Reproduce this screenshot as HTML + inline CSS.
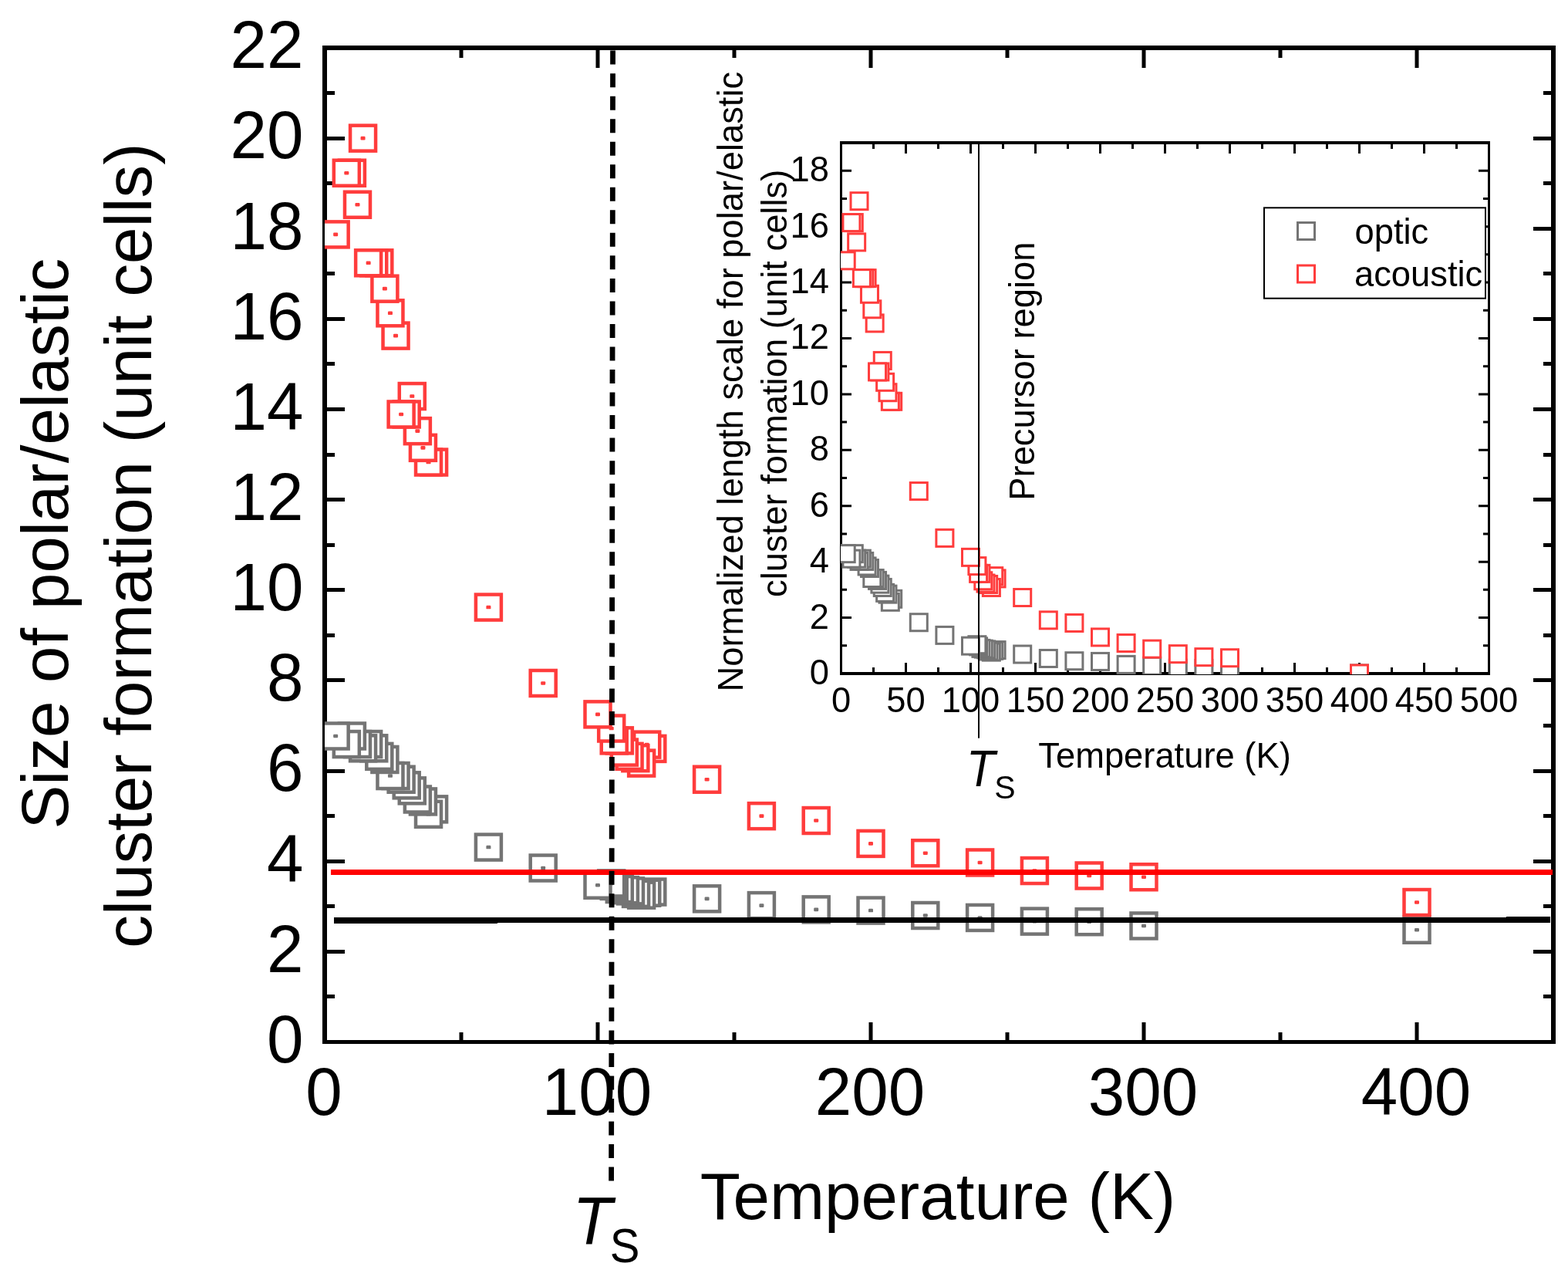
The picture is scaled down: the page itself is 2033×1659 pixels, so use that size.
<!DOCTYPE html>
<html lang="en"><head><meta charset="utf-8"><title>Size of polar/elastic cluster formation vs temperature</title>
<style>html,body{margin:0;padding:0;background:#fff;width:2033px;height:1659px;overflow:hidden}</style>
</head><body>
<svg width="2033" height="1659" viewBox="0 0 2033 1659" style="display:block;font-family:'Liberation Sans',Arial,Helvetica,sans-serif">
<rect width="2033" height="1659" fill="#fff"/>
<defs><clipPath id="cm"><rect x="421" y="62" width="1593" height="1288.5"/></clipPath><clipPath id="ci"><rect x="1090" y="185" width="840.5" height="689"/></clipPath></defs>
<path d="M424 1350.5h23M2011 1350.5h-23M424 1291.5h10M2011 1291.5h-10M424 1233.5h23M2011 1233.5h-23M424 1174.5h10M2011 1174.5h-10M424 1116.5h23M2011 1116.5h-23M424 1057.5h10M2011 1057.5h-10M424 999.5h23M2011 999.5h-23M424 940.5h10M2011 940.5h-10M424 881.5h23M2011 881.5h-23M424 823.5h10M2011 823.5h-10M424 764.5h23M2011 764.5h-23M424 706.5h10M2011 706.5h-10M424 647.5h23M2011 647.5h-23M424 589.5h10M2011 589.5h-10M424 530.5h23M2011 530.5h-23M424 471.5h10M2011 471.5h-10M424 413.5h23M2011 413.5h-23M424 354.5h10M2011 354.5h-10M424 296.5h23M2011 296.5h-23M424 237.5h10M2011 237.5h-10M424 179.5h23M2011 179.5h-23M424 120.5h10M2011 120.5h-10M424 62.5h23M2011 62.5h-23M598 1348v-10M598 65v10M775 1348v-23M775 65v23M952 1348v-10M952 65v10M1129 1348v-23M1129 65v23M1306 1348v-10M1306 65v10M1483 1348v-23M1483 65v23M1660 1348v-10M1660 65v10M1837 1348v-23M1837 65v23" stroke="#000" stroke-width="5" fill="none"/>
<g fill="#000">
<rect x="418" y="59" width="6" height="1294" fill="#000"/>
<rect x="2011" y="59" width="6" height="1294" fill="#000"/>
<rect x="418" y="59" width="1599" height="6" fill="#000"/>
<rect x="418" y="1348" width="1599" height="5" fill="#000"/>
</g>
<g clip-path="url(#cm)">
<rect x="1820.5" y="1188.75" width="33" height="33" fill="#fff" stroke="#747474" stroke-width="4.5"/>
<rect x="1834" y="1202.95" width="6" height="4.6" rx="1.2" fill="#747474"/>
<rect x="1466.5" y="1183.48" width="33" height="33" fill="#fff" stroke="#747474" stroke-width="4.5"/>
<rect x="1480" y="1197.68" width="6" height="4.6" rx="1.2" fill="#747474"/>
<rect x="1395.7" y="1178.21" width="33" height="33" fill="#fff" stroke="#747474" stroke-width="4.5"/>
<rect x="1409.2" y="1192.41" width="6" height="4.6" rx="1.2" fill="#747474"/>
<rect x="1324.9" y="1177.62" width="33" height="33" fill="#fff" stroke="#747474" stroke-width="4.5"/>
<rect x="1338.4" y="1191.82" width="6" height="4.6" rx="1.2" fill="#747474"/>
<rect x="1254.1" y="1172.94" width="33" height="33" fill="#fff" stroke="#747474" stroke-width="4.5"/>
<rect x="1267.6" y="1187.14" width="6" height="4.6" rx="1.2" fill="#747474"/>
<rect x="1183.3" y="1170.01" width="33" height="33" fill="#fff" stroke="#747474" stroke-width="4.5"/>
<rect x="1196.8" y="1184.21" width="6" height="4.6" rx="1.2" fill="#747474"/>
<rect x="1112.5" y="1163.57" width="33" height="33" fill="#fff" stroke="#747474" stroke-width="4.5"/>
<rect x="1126" y="1177.77" width="6" height="4.6" rx="1.2" fill="#747474"/>
<rect x="1041.7" y="1162.4" width="33" height="33" fill="#fff" stroke="#747474" stroke-width="4.5"/>
<rect x="1055.2" y="1176.6" width="6" height="4.6" rx="1.2" fill="#747474"/>
<rect x="970.9" y="1157.12" width="33" height="33" fill="#fff" stroke="#747474" stroke-width="4.5"/>
<rect x="984.4" y="1171.32" width="6" height="4.6" rx="1.2" fill="#747474"/>
<rect x="900.1" y="1148.34" width="33" height="33" fill="#fff" stroke="#747474" stroke-width="4.5"/>
<rect x="913.6" y="1162.54" width="6" height="4.6" rx="1.2" fill="#747474"/>
<rect x="829.3" y="1139.55" width="33" height="33" fill="#fff" stroke="#747474" stroke-width="4.5"/>
<rect x="842.8" y="1153.75" width="6" height="4.6" rx="1.2" fill="#747474"/>
<rect x="822.22" y="1140.72" width="33" height="33" fill="#fff" stroke="#747474" stroke-width="4.5"/>
<rect x="835.72" y="1154.92" width="6" height="4.6" rx="1.2" fill="#747474"/>
<rect x="815.14" y="1143.65" width="33" height="33" fill="#fff" stroke="#747474" stroke-width="4.5"/>
<rect x="828.64" y="1157.85" width="6" height="4.6" rx="1.2" fill="#747474"/>
<rect x="808.06" y="1141.9" width="33" height="33" fill="#fff" stroke="#747474" stroke-width="4.5"/>
<rect x="821.56" y="1156.1" width="6" height="4.6" rx="1.2" fill="#747474"/>
<rect x="800.98" y="1138.38" width="33" height="33" fill="#fff" stroke="#747474" stroke-width="4.5"/>
<rect x="814.48" y="1152.58" width="6" height="4.6" rx="1.2" fill="#747474"/>
<rect x="793.9" y="1137.21" width="33" height="33" fill="#fff" stroke="#747474" stroke-width="4.5"/>
<rect x="807.4" y="1151.41" width="6" height="4.6" rx="1.2" fill="#747474"/>
<rect x="786.82" y="1136.04" width="33" height="33" fill="#fff" stroke="#747474" stroke-width="4.5"/>
<rect x="800.32" y="1150.24" width="6" height="4.6" rx="1.2" fill="#747474"/>
<rect x="779.74" y="1131.94" width="33" height="33" fill="#fff" stroke="#747474" stroke-width="4.5"/>
<rect x="793.24" y="1146.14" width="6" height="4.6" rx="1.2" fill="#747474"/>
<rect x="776.2" y="1128.43" width="33" height="33" fill="#fff" stroke="#747474" stroke-width="4.5"/>
<rect x="789.7" y="1142.63" width="6" height="4.6" rx="1.2" fill="#747474"/>
<rect x="758.5" y="1130.77" width="33" height="33" fill="#fff" stroke="#747474" stroke-width="4.5"/>
<rect x="772" y="1144.97" width="6" height="4.6" rx="1.2" fill="#747474"/>
<rect x="687.7" y="1108.51" width="33" height="33" fill="#fff" stroke="#747474" stroke-width="4.5"/>
<rect x="701.2" y="1122.71" width="6" height="4.6" rx="1.2" fill="#747474"/>
<rect x="616.9" y="1081.57" width="33" height="33" fill="#fff" stroke="#747474" stroke-width="4.5"/>
<rect x="630.4" y="1095.77" width="6" height="4.6" rx="1.2" fill="#747474"/>
<rect x="546.1" y="1032.37" width="33" height="33" fill="#fff" stroke="#747474" stroke-width="4.5"/>
<rect x="559.6" y="1046.57" width="6" height="4.6" rx="1.2" fill="#747474"/>
<rect x="539.02" y="1038.82" width="33" height="33" fill="#fff" stroke="#747474" stroke-width="4.5"/>
<rect x="552.52" y="1053.02" width="6" height="4.6" rx="1.2" fill="#747474"/>
<rect x="531.94" y="1022.42" width="33" height="33" fill="#fff" stroke="#747474" stroke-width="4.5"/>
<rect x="545.44" y="1036.62" width="6" height="4.6" rx="1.2" fill="#747474"/>
<rect x="524.86" y="1019.49" width="33" height="33" fill="#fff" stroke="#747474" stroke-width="4.5"/>
<rect x="538.36" y="1033.69" width="6" height="4.6" rx="1.2" fill="#747474"/>
<rect x="517.78" y="1008.36" width="33" height="33" fill="#fff" stroke="#747474" stroke-width="4.5"/>
<rect x="531.28" y="1022.56" width="6" height="4.6" rx="1.2" fill="#747474"/>
<rect x="510.7" y="1001.33" width="33" height="33" fill="#fff" stroke="#747474" stroke-width="4.5"/>
<rect x="524.2" y="1015.53" width="6" height="4.6" rx="1.2" fill="#747474"/>
<rect x="503.62" y="993.72" width="33" height="33" fill="#fff" stroke="#747474" stroke-width="4.5"/>
<rect x="517.12" y="1007.92" width="6" height="4.6" rx="1.2" fill="#747474"/>
<rect x="496.54" y="989.03" width="33" height="33" fill="#fff" stroke="#747474" stroke-width="4.5"/>
<rect x="510.04" y="1003.23" width="6" height="4.6" rx="1.2" fill="#747474"/>
<rect x="489.46" y="989.03" width="33" height="33" fill="#fff" stroke="#747474" stroke-width="4.5"/>
<rect x="502.96" y="1003.23" width="6" height="4.6" rx="1.2" fill="#747474"/>
<rect x="482.38" y="967.95" width="33" height="33" fill="#fff" stroke="#747474" stroke-width="4.5"/>
<rect x="495.88" y="982.15" width="6" height="4.6" rx="1.2" fill="#747474"/>
<rect x="475.3" y="963.85" width="33" height="33" fill="#fff" stroke="#747474" stroke-width="4.5"/>
<rect x="488.8" y="978.05" width="6" height="4.6" rx="1.2" fill="#747474"/>
<rect x="468.22" y="953.31" width="33" height="33" fill="#fff" stroke="#747474" stroke-width="4.5"/>
<rect x="481.72" y="967.51" width="6" height="4.6" rx="1.2" fill="#747474"/>
<rect x="461.14" y="948.04" width="33" height="33" fill="#fff" stroke="#747474" stroke-width="4.5"/>
<rect x="474.64" y="962.24" width="6" height="4.6" rx="1.2" fill="#747474"/>
<rect x="454.06" y="953.31" width="33" height="33" fill="#fff" stroke="#747474" stroke-width="4.5"/>
<rect x="467.56" y="967.51" width="6" height="4.6" rx="1.2" fill="#747474"/>
<rect x="446.98" y="948.04" width="33" height="33" fill="#fff" stroke="#747474" stroke-width="4.5"/>
<rect x="460.48" y="962.24" width="6" height="4.6" rx="1.2" fill="#747474"/>
<rect x="439.9" y="937.49" width="33" height="33" fill="#fff" stroke="#747474" stroke-width="4.5"/>
<rect x="453.4" y="951.69" width="6" height="4.6" rx="1.2" fill="#747474"/>
<rect x="432.82" y="948.04" width="33" height="33" fill="#fff" stroke="#747474" stroke-width="4.5"/>
<rect x="446.32" y="962.24" width="6" height="4.6" rx="1.2" fill="#747474"/>
<rect x="418.66" y="937.49" width="33" height="33" fill="#fff" stroke="#747474" stroke-width="4.5"/>
<rect x="432.16" y="951.69" width="6" height="4.6" rx="1.2" fill="#747474"/>
<rect x="1820.5" y="1153.02" width="33" height="33" fill="#fff" stroke="#ff3c3c" stroke-width="4.5"/>
<rect x="1834" y="1167.22" width="6" height="4.6" rx="1.2" fill="#ff3c3c"/>
<rect x="1466.5" y="1120.23" width="33" height="33" fill="#fff" stroke="#ff3c3c" stroke-width="4.5"/>
<rect x="1480" y="1134.43" width="6" height="4.6" rx="1.2" fill="#ff3c3c"/>
<rect x="1395.7" y="1118.47" width="33" height="33" fill="#fff" stroke="#ff3c3c" stroke-width="4.5"/>
<rect x="1409.2" y="1132.67" width="6" height="4.6" rx="1.2" fill="#ff3c3c"/>
<rect x="1324.9" y="1112.03" width="33" height="33" fill="#fff" stroke="#ff3c3c" stroke-width="4.5"/>
<rect x="1338.4" y="1126.23" width="6" height="4.6" rx="1.2" fill="#ff3c3c"/>
<rect x="1254.1" y="1101.48" width="33" height="33" fill="#fff" stroke="#ff3c3c" stroke-width="4.5"/>
<rect x="1267.6" y="1115.68" width="6" height="4.6" rx="1.2" fill="#ff3c3c"/>
<rect x="1183.3" y="1089.18" width="33" height="33" fill="#fff" stroke="#ff3c3c" stroke-width="4.5"/>
<rect x="1196.8" y="1103.38" width="6" height="4.6" rx="1.2" fill="#ff3c3c"/>
<rect x="1112.5" y="1076.89" width="33" height="33" fill="#fff" stroke="#ff3c3c" stroke-width="4.5"/>
<rect x="1126" y="1091.09" width="6" height="4.6" rx="1.2" fill="#ff3c3c"/>
<rect x="1041.7" y="1047.02" width="33" height="33" fill="#fff" stroke="#ff3c3c" stroke-width="4.5"/>
<rect x="1055.2" y="1061.22" width="6" height="4.6" rx="1.2" fill="#ff3c3c"/>
<rect x="970.9" y="1041.16" width="33" height="33" fill="#fff" stroke="#ff3c3c" stroke-width="4.5"/>
<rect x="984.4" y="1055.36" width="6" height="4.6" rx="1.2" fill="#ff3c3c"/>
<rect x="900.1" y="993.72" width="33" height="33" fill="#fff" stroke="#ff3c3c" stroke-width="4.5"/>
<rect x="913.6" y="1007.92" width="6" height="4.6" rx="1.2" fill="#ff3c3c"/>
<rect x="829.3" y="953.89" width="33" height="33" fill="#fff" stroke="#ff3c3c" stroke-width="4.5"/>
<rect x="842.8" y="968.09" width="6" height="4.6" rx="1.2" fill="#ff3c3c"/>
<rect x="822.22" y="948.62" width="33" height="33" fill="#fff" stroke="#ff3c3c" stroke-width="4.5"/>
<rect x="835.72" y="962.82" width="6" height="4.6" rx="1.2" fill="#ff3c3c"/>
<rect x="815.14" y="972.63" width="33" height="33" fill="#fff" stroke="#ff3c3c" stroke-width="4.5"/>
<rect x="828.64" y="986.83" width="6" height="4.6" rx="1.2" fill="#ff3c3c"/>
<rect x="807.35" y="966.19" width="33" height="33" fill="#fff" stroke="#ff3c3c" stroke-width="4.5"/>
<rect x="820.85" y="980.39" width="6" height="4.6" rx="1.2" fill="#ff3c3c"/>
<rect x="799.56" y="963.85" width="33" height="33" fill="#fff" stroke="#ff3c3c" stroke-width="4.5"/>
<rect x="813.06" y="978.05" width="6" height="4.6" rx="1.2" fill="#ff3c3c"/>
<rect x="792.84" y="958.58" width="33" height="33" fill="#fff" stroke="#ff3c3c" stroke-width="4.5"/>
<rect x="806.34" y="972.78" width="6" height="4.6" rx="1.2" fill="#ff3c3c"/>
<rect x="786.82" y="943.35" width="33" height="33" fill="#fff" stroke="#ff3c3c" stroke-width="4.5"/>
<rect x="800.32" y="957.55" width="6" height="4.6" rx="1.2" fill="#ff3c3c"/>
<rect x="779.74" y="943.35" width="33" height="33" fill="#fff" stroke="#ff3c3c" stroke-width="4.5"/>
<rect x="793.24" y="957.55" width="6" height="4.6" rx="1.2" fill="#ff3c3c"/>
<rect x="776.2" y="927.54" width="33" height="33" fill="#fff" stroke="#ff3c3c" stroke-width="4.5"/>
<rect x="789.7" y="941.74" width="6" height="4.6" rx="1.2" fill="#ff3c3c"/>
<rect x="758.5" y="909.38" width="33" height="33" fill="#fff" stroke="#ff3c3c" stroke-width="4.5"/>
<rect x="772" y="923.58" width="6" height="4.6" rx="1.2" fill="#ff3c3c"/>
<rect x="687.7" y="868.97" width="33" height="33" fill="#fff" stroke="#ff3c3c" stroke-width="4.5"/>
<rect x="701.2" y="883.17" width="6" height="4.6" rx="1.2" fill="#ff3c3c"/>
<rect x="616.9" y="770.57" width="33" height="33" fill="#fff" stroke="#ff3c3c" stroke-width="4.5"/>
<rect x="630.4" y="784.77" width="6" height="4.6" rx="1.2" fill="#ff3c3c"/>
<rect x="546.1" y="582.57" width="33" height="33" fill="#fff" stroke="#ff3c3c" stroke-width="4.5"/>
<rect x="559.6" y="596.77" width="6" height="4.6" rx="1.2" fill="#ff3c3c"/>
<rect x="539.02" y="582.57" width="33" height="33" fill="#fff" stroke="#ff3c3c" stroke-width="4.5"/>
<rect x="552.52" y="596.77" width="6" height="4.6" rx="1.2" fill="#ff3c3c"/>
<rect x="531.94" y="563.83" width="33" height="33" fill="#fff" stroke="#ff3c3c" stroke-width="4.5"/>
<rect x="545.44" y="578.03" width="6" height="4.6" rx="1.2" fill="#ff3c3c"/>
<rect x="524.86" y="542.16" width="33" height="33" fill="#fff" stroke="#ff3c3c" stroke-width="4.5"/>
<rect x="538.36" y="556.36" width="6" height="4.6" rx="1.2" fill="#ff3c3c"/>
<rect x="517.78" y="497.06" width="33" height="33" fill="#fff" stroke="#ff3c3c" stroke-width="4.5"/>
<rect x="531.28" y="511.26" width="6" height="4.6" rx="1.2" fill="#ff3c3c"/>
<rect x="510.7" y="520.49" width="33" height="33" fill="#fff" stroke="#ff3c3c" stroke-width="4.5"/>
<rect x="524.2" y="534.69" width="6" height="4.6" rx="1.2" fill="#ff3c3c"/>
<rect x="503.62" y="520.49" width="33" height="33" fill="#fff" stroke="#ff3c3c" stroke-width="4.5"/>
<rect x="517.12" y="534.69" width="6" height="4.6" rx="1.2" fill="#ff3c3c"/>
<rect x="496.54" y="418.58" width="33" height="33" fill="#fff" stroke="#ff3c3c" stroke-width="4.5"/>
<rect x="510.04" y="432.78" width="6" height="4.6" rx="1.2" fill="#ff3c3c"/>
<rect x="489.46" y="389.3" width="33" height="33" fill="#fff" stroke="#ff3c3c" stroke-width="4.5"/>
<rect x="502.96" y="403.5" width="6" height="4.6" rx="1.2" fill="#ff3c3c"/>
<rect x="482.38" y="357.67" width="33" height="33" fill="#fff" stroke="#ff3c3c" stroke-width="4.5"/>
<rect x="495.88" y="371.87" width="6" height="4.6" rx="1.2" fill="#ff3c3c"/>
<rect x="475.3" y="324.28" width="33" height="33" fill="#fff" stroke="#ff3c3c" stroke-width="4.5"/>
<rect x="488.8" y="338.48" width="6" height="4.6" rx="1.2" fill="#ff3c3c"/>
<rect x="468.22" y="324.28" width="33" height="33" fill="#fff" stroke="#ff3c3c" stroke-width="4.5"/>
<rect x="481.72" y="338.48" width="6" height="4.6" rx="1.2" fill="#ff3c3c"/>
<rect x="461.14" y="324.28" width="33" height="33" fill="#fff" stroke="#ff3c3c" stroke-width="4.5"/>
<rect x="474.64" y="338.48" width="6" height="4.6" rx="1.2" fill="#ff3c3c"/>
<rect x="454.06" y="162.64" width="33" height="33" fill="#fff" stroke="#ff3c3c" stroke-width="4.5"/>
<rect x="467.56" y="176.84" width="6" height="4.6" rx="1.2" fill="#ff3c3c"/>
<rect x="446.98" y="248.73" width="33" height="33" fill="#fff" stroke="#ff3c3c" stroke-width="4.5"/>
<rect x="460.48" y="262.93" width="6" height="4.6" rx="1.2" fill="#ff3c3c"/>
<rect x="439.9" y="207.73" width="33" height="33" fill="#fff" stroke="#ff3c3c" stroke-width="4.5"/>
<rect x="453.4" y="221.93" width="6" height="4.6" rx="1.2" fill="#ff3c3c"/>
<rect x="432.82" y="207.73" width="33" height="33" fill="#fff" stroke="#ff3c3c" stroke-width="4.5"/>
<rect x="446.32" y="221.93" width="6" height="4.6" rx="1.2" fill="#ff3c3c"/>
<rect x="418.66" y="287.39" width="33" height="33" fill="#fff" stroke="#ff3c3c" stroke-width="4.5"/>
<rect x="432.16" y="301.59" width="6" height="4.6" rx="1.2" fill="#ff3c3c"/>
</g>
<g fill="#000">
<rect x="433" y="1189" width="212" height="8" fill="#000"/>
<rect x="645" y="1189" width="1308" height="7" fill="#000"/>
<rect x="1953" y="1188" width="57" height="8" fill="#000"/>
</g>
<rect x="429" y="1127" width="1584" height="7" fill="#f00"/>
<line x1="794.6" y1="59" x2="792.6" y2="1531.5" stroke="#000" stroke-width="6.8" stroke-dasharray="18 11.53" stroke-dashoffset="22.93"/>
<g fill="#000">
<text transform="translate(393.5 1376.8) scale(1.0 1.026)" style="font-size:85.33px" text-anchor="end">0</text>
<text transform="translate(393.5 1259.66) scale(1.0 1.026)" style="font-size:85.33px" text-anchor="end">2</text>
<text transform="translate(393.5 1142.53) scale(1.0 1.026)" style="font-size:85.33px" text-anchor="end">4</text>
<text transform="translate(393.5 1025.39) scale(1.0 1.026)" style="font-size:85.33px" text-anchor="end">6</text>
<text transform="translate(393.5 908.25) scale(1.0 1.026)" style="font-size:85.33px" text-anchor="end">8</text>
<text transform="translate(393.5 791.12) scale(1.0 1.026)" style="font-size:85.33px" text-anchor="end">10</text>
<text transform="translate(393.5 673.98) scale(1.0 1.026)" style="font-size:85.33px" text-anchor="end">12</text>
<text transform="translate(393.5 556.85) scale(1.0 1.026)" style="font-size:85.33px" text-anchor="end">14</text>
<text transform="translate(393.5 439.71) scale(1.0 1.026)" style="font-size:85.33px" text-anchor="end">16</text>
<text transform="translate(393.5 322.57) scale(1.0 1.026)" style="font-size:85.33px" text-anchor="end">18</text>
<text transform="translate(393.5 205.44) scale(1.0 1.026)" style="font-size:85.33px" text-anchor="end">20</text>
<text transform="translate(393.5 88.3) scale(1.0 1.026)" style="font-size:85.33px" text-anchor="end">22</text>
<text transform="translate(420 1445) scale(1.0 1.026)" style="font-size:85.33px" text-anchor="middle">0</text>
<text transform="translate(774 1445) scale(1.0 1.026)" style="font-size:85.33px" text-anchor="middle">100</text>
<text transform="translate(1128 1445) scale(1.0 1.026)" style="font-size:85.33px" text-anchor="middle">200</text>
<text transform="translate(1482 1445) scale(1.0 1.026)" style="font-size:85.33px" text-anchor="middle">300</text>
<text transform="translate(1836 1445) scale(1.0 1.026)" style="font-size:85.33px" text-anchor="middle">400</text>
<text transform="translate(1216 1580.3)" style="font-size:85.33px" text-anchor="middle">Temperature (K)</text>
<text transform="translate(88.1 704.65) rotate(-90)" style="font-size:85.33px" text-anchor="middle">Size of polar/elastic</text>
<text transform="translate(195.9 707.05) rotate(-90)" style="font-size:85.33px" text-anchor="middle">cluster formation (unit cells)</text>
<text transform="translate(742.5 1611.8) scale(0.98 1.015)" style="font-size:85.33px;font-style:italic">T</text>
<text transform="translate(790.8 1635.8) scale(1.0 1.075)" style="font-size:58px">S</text>
</g>
<rect x="1089" y="183" width="843" height="692" fill="#fff"/>
<path d="M1092 873h12M1929 873h-12M1092 836.79h6M1929 836.79h-6M1092 800.58h12M1929 800.58h-12M1092 764.37h6M1929 764.37h-6M1092 728.16h12M1929 728.16h-12M1092 691.95h6M1929 691.95h-6M1092 655.74h12M1929 655.74h-12M1092 619.53h6M1929 619.53h-6M1092 583.32h12M1929 583.32h-12M1092 547.11h6M1929 547.11h-6M1092 510.89h12M1929 510.89h-12M1092 474.68h6M1929 474.68h-6M1092 438.47h12M1929 438.47h-12M1092 402.26h6M1929 402.26h-6M1092 366.05h12M1929 366.05h-12M1092 329.84h6M1929 329.84h-6M1092 293.63h12M1929 293.63h-12M1092 257.42h6M1929 257.42h-6M1092 221.21h12M1929 221.21h-12M1092 185h6M1929 185h-6M1132.5 871v-6M1132.5 187v6M1174.5 871v-12M1174.5 187v12M1216.5 871v-6M1216.5 187v6M1258.5 871v-12M1258.5 187v12M1300.5 871v-6M1300.5 187v6M1342.5 871v-12M1342.5 187v12M1384.5 871v-6M1384.5 187v6M1426.5 871v-12M1426.5 187v12M1468.5 871v-6M1468.5 187v6M1510.5 871v-12M1510.5 187v12M1552.5 871v-6M1552.5 187v6M1594.5 871v-12M1594.5 187v12M1636.5 871v-6M1636.5 187v6M1678.5 871v-12M1678.5 187v12M1720.5 871v-6M1720.5 187v6M1762.5 871v-12M1762.5 187v12M1804.5 871v-6M1804.5 187v6M1846.5 871v-12M1846.5 187v12M1888.5 871v-6M1888.5 187v6" stroke="#000" stroke-width="3" fill="none"/>
<g fill="#000">
<rect x="1089" y="183" width="3" height="692" fill="#000"/>
<rect x="1929" y="183" width="3" height="692" fill="#000"/>
<rect x="1089" y="183" width="843" height="4" fill="#000"/>
<rect x="1089" y="871" width="843" height="4" fill="#000"/>
</g>
<g clip-path="url(#ci)">
<rect x="1751.5" y="862" width="22" height="22" fill="#fff" stroke="#747474" stroke-width="3"/>
<rect x="1583.5" y="858.74" width="22" height="22" fill="#fff" stroke="#747474" stroke-width="3"/>
<rect x="1549.9" y="855.48" width="22" height="22" fill="#fff" stroke="#747474" stroke-width="3"/>
<rect x="1516.3" y="855.12" width="22" height="22" fill="#fff" stroke="#747474" stroke-width="3"/>
<rect x="1482.7" y="852.22" width="22" height="22" fill="#fff" stroke="#747474" stroke-width="3"/>
<rect x="1449.1" y="850.41" width="22" height="22" fill="#fff" stroke="#747474" stroke-width="3"/>
<rect x="1415.5" y="846.43" width="22" height="22" fill="#fff" stroke="#747474" stroke-width="3"/>
<rect x="1381.9" y="845.71" width="22" height="22" fill="#fff" stroke="#747474" stroke-width="3"/>
<rect x="1348.3" y="842.45" width="22" height="22" fill="#fff" stroke="#747474" stroke-width="3"/>
<rect x="1314.7" y="837.01" width="22" height="22" fill="#fff" stroke="#747474" stroke-width="3"/>
<rect x="1281.1" y="831.58" width="22" height="22" fill="#fff" stroke="#747474" stroke-width="3"/>
<rect x="1277.74" y="832.31" width="22" height="22" fill="#fff" stroke="#747474" stroke-width="3"/>
<rect x="1274.38" y="834.12" width="22" height="22" fill="#fff" stroke="#747474" stroke-width="3"/>
<rect x="1271.02" y="833.03" width="22" height="22" fill="#fff" stroke="#747474" stroke-width="3"/>
<rect x="1267.66" y="830.86" width="22" height="22" fill="#fff" stroke="#747474" stroke-width="3"/>
<rect x="1264.3" y="830.13" width="22" height="22" fill="#fff" stroke="#747474" stroke-width="3"/>
<rect x="1260.94" y="829.41" width="22" height="22" fill="#fff" stroke="#747474" stroke-width="3"/>
<rect x="1257.58" y="826.88" width="22" height="22" fill="#fff" stroke="#747474" stroke-width="3"/>
<rect x="1255.9" y="824.7" width="22" height="22" fill="#fff" stroke="#747474" stroke-width="3"/>
<rect x="1247.5" y="826.15" width="22" height="22" fill="#fff" stroke="#747474" stroke-width="3"/>
<rect x="1213.9" y="812.39" width="22" height="22" fill="#fff" stroke="#747474" stroke-width="3"/>
<rect x="1180.3" y="795.73" width="22" height="22" fill="#fff" stroke="#747474" stroke-width="3"/>
<rect x="1146.7" y="765.32" width="22" height="22" fill="#fff" stroke="#747474" stroke-width="3"/>
<rect x="1143.34" y="769.3" width="22" height="22" fill="#fff" stroke="#747474" stroke-width="3"/>
<rect x="1139.98" y="759.16" width="22" height="22" fill="#fff" stroke="#747474" stroke-width="3"/>
<rect x="1136.62" y="757.35" width="22" height="22" fill="#fff" stroke="#747474" stroke-width="3"/>
<rect x="1133.26" y="750.47" width="22" height="22" fill="#fff" stroke="#747474" stroke-width="3"/>
<rect x="1129.9" y="746.13" width="22" height="22" fill="#fff" stroke="#747474" stroke-width="3"/>
<rect x="1126.54" y="741.42" width="22" height="22" fill="#fff" stroke="#747474" stroke-width="3"/>
<rect x="1123.18" y="738.52" width="22" height="22" fill="#fff" stroke="#747474" stroke-width="3"/>
<rect x="1119.82" y="738.52" width="22" height="22" fill="#fff" stroke="#747474" stroke-width="3"/>
<rect x="1116.46" y="725.49" width="22" height="22" fill="#fff" stroke="#747474" stroke-width="3"/>
<rect x="1113.1" y="722.95" width="22" height="22" fill="#fff" stroke="#747474" stroke-width="3"/>
<rect x="1109.74" y="716.43" width="22" height="22" fill="#fff" stroke="#747474" stroke-width="3"/>
<rect x="1106.38" y="713.17" width="22" height="22" fill="#fff" stroke="#747474" stroke-width="3"/>
<rect x="1103.02" y="716.43" width="22" height="22" fill="#fff" stroke="#747474" stroke-width="3"/>
<rect x="1099.66" y="713.17" width="22" height="22" fill="#fff" stroke="#747474" stroke-width="3"/>
<rect x="1096.3" y="706.66" width="22" height="22" fill="#fff" stroke="#747474" stroke-width="3"/>
<rect x="1092.94" y="713.17" width="22" height="22" fill="#fff" stroke="#747474" stroke-width="3"/>
<rect x="1086.22" y="706.66" width="22" height="22" fill="#fff" stroke="#747474" stroke-width="3"/>
<rect x="1751.5" y="862" width="22" height="22" fill="#fff" stroke="#ff3c3c" stroke-width="3"/>
<rect x="1583.5" y="841.72" width="22" height="22" fill="#fff" stroke="#ff3c3c" stroke-width="3"/>
<rect x="1549.9" y="840.64" width="22" height="22" fill="#fff" stroke="#ff3c3c" stroke-width="3"/>
<rect x="1516.3" y="836.65" width="22" height="22" fill="#fff" stroke="#ff3c3c" stroke-width="3"/>
<rect x="1482.7" y="830.13" width="22" height="22" fill="#fff" stroke="#ff3c3c" stroke-width="3"/>
<rect x="1449.1" y="822.53" width="22" height="22" fill="#fff" stroke="#ff3c3c" stroke-width="3"/>
<rect x="1415.5" y="814.93" width="22" height="22" fill="#fff" stroke="#ff3c3c" stroke-width="3"/>
<rect x="1381.9" y="796.46" width="22" height="22" fill="#fff" stroke="#ff3c3c" stroke-width="3"/>
<rect x="1348.3" y="792.84" width="22" height="22" fill="#fff" stroke="#ff3c3c" stroke-width="3"/>
<rect x="1314.7" y="763.51" width="22" height="22" fill="#fff" stroke="#ff3c3c" stroke-width="3"/>
<rect x="1281.1" y="738.88" width="22" height="22" fill="#fff" stroke="#ff3c3c" stroke-width="3"/>
<rect x="1277.74" y="735.63" width="22" height="22" fill="#fff" stroke="#ff3c3c" stroke-width="3"/>
<rect x="1274.38" y="750.47" width="22" height="22" fill="#fff" stroke="#ff3c3c" stroke-width="3"/>
<rect x="1270.68" y="746.49" width="22" height="22" fill="#fff" stroke="#ff3c3c" stroke-width="3"/>
<rect x="1266.99" y="745.04" width="22" height="22" fill="#fff" stroke="#ff3c3c" stroke-width="3"/>
<rect x="1263.8" y="741.78" width="22" height="22" fill="#fff" stroke="#ff3c3c" stroke-width="3"/>
<rect x="1260.94" y="732.37" width="22" height="22" fill="#fff" stroke="#ff3c3c" stroke-width="3"/>
<rect x="1257.58" y="732.37" width="22" height="22" fill="#fff" stroke="#ff3c3c" stroke-width="3"/>
<rect x="1255.9" y="722.59" width="22" height="22" fill="#fff" stroke="#ff3c3c" stroke-width="3"/>
<rect x="1247.5" y="711.36" width="22" height="22" fill="#fff" stroke="#ff3c3c" stroke-width="3"/>
<rect x="1213.9" y="686.38" width="22" height="22" fill="#fff" stroke="#ff3c3c" stroke-width="3"/>
<rect x="1180.3" y="625.55" width="22" height="22" fill="#fff" stroke="#ff3c3c" stroke-width="3"/>
<rect x="1146.7" y="509.31" width="22" height="22" fill="#fff" stroke="#ff3c3c" stroke-width="3"/>
<rect x="1143.34" y="509.31" width="22" height="22" fill="#fff" stroke="#ff3c3c" stroke-width="3"/>
<rect x="1139.98" y="497.72" width="22" height="22" fill="#fff" stroke="#ff3c3c" stroke-width="3"/>
<rect x="1136.62" y="484.32" width="22" height="22" fill="#fff" stroke="#ff3c3c" stroke-width="3"/>
<rect x="1133.26" y="456.44" width="22" height="22" fill="#fff" stroke="#ff3c3c" stroke-width="3"/>
<rect x="1129.9" y="470.93" width="22" height="22" fill="#fff" stroke="#ff3c3c" stroke-width="3"/>
<rect x="1126.54" y="470.93" width="22" height="22" fill="#fff" stroke="#ff3c3c" stroke-width="3"/>
<rect x="1123.18" y="407.92" width="22" height="22" fill="#fff" stroke="#ff3c3c" stroke-width="3"/>
<rect x="1119.82" y="389.81" width="22" height="22" fill="#fff" stroke="#ff3c3c" stroke-width="3"/>
<rect x="1116.46" y="370.26" width="22" height="22" fill="#fff" stroke="#ff3c3c" stroke-width="3"/>
<rect x="1113.1" y="349.62" width="22" height="22" fill="#fff" stroke="#ff3c3c" stroke-width="3"/>
<rect x="1109.74" y="349.62" width="22" height="22" fill="#fff" stroke="#ff3c3c" stroke-width="3"/>
<rect x="1106.38" y="349.62" width="22" height="22" fill="#fff" stroke="#ff3c3c" stroke-width="3"/>
<rect x="1103.02" y="249.68" width="22" height="22" fill="#fff" stroke="#ff3c3c" stroke-width="3"/>
<rect x="1099.66" y="302.91" width="22" height="22" fill="#fff" stroke="#ff3c3c" stroke-width="3"/>
<rect x="1096.3" y="277.56" width="22" height="22" fill="#fff" stroke="#ff3c3c" stroke-width="3"/>
<rect x="1092.94" y="277.56" width="22" height="22" fill="#fff" stroke="#ff3c3c" stroke-width="3"/>
<rect x="1086.22" y="326.81" width="22" height="22" fill="#fff" stroke="#ff3c3c" stroke-width="3"/>
</g>
<rect x="1268" y="185" width="2" height="771.7" fill="#000"/>
<g fill="#000">
<text transform="translate(1074.9 887) scale(1.0 1.026)" style="font-size:45.33px" text-anchor="end">0</text>
<text transform="translate(1074.9 814.58) scale(1.0 1.026)" style="font-size:45.33px" text-anchor="end">2</text>
<text transform="translate(1074.9 742.16) scale(1.0 1.026)" style="font-size:45.33px" text-anchor="end">4</text>
<text transform="translate(1074.9 669.74) scale(1.0 1.026)" style="font-size:45.33px" text-anchor="end">6</text>
<text transform="translate(1074.9 597.32) scale(1.0 1.026)" style="font-size:45.33px" text-anchor="end">8</text>
<text transform="translate(1074.9 524.89) scale(1.0 1.026)" style="font-size:45.33px" text-anchor="end">10</text>
<text transform="translate(1074.9 452.47) scale(1.0 1.026)" style="font-size:45.33px" text-anchor="end">12</text>
<text transform="translate(1074.9 380.05) scale(1.0 1.026)" style="font-size:45.33px" text-anchor="end">14</text>
<text transform="translate(1074.9 307.63) scale(1.0 1.026)" style="font-size:45.33px" text-anchor="end">16</text>
<text transform="translate(1074.9 235.21) scale(1.0 1.026)" style="font-size:45.33px" text-anchor="end">18</text>
<text transform="translate(1090.5 923) scale(1.0 1.026)" style="font-size:45.33px" text-anchor="middle">0</text>
<text transform="translate(1174.5 923) scale(1.0 1.026)" style="font-size:45.33px" text-anchor="middle">50</text>
<text transform="translate(1258.5 923) scale(1.0 1.026)" style="font-size:45.33px" text-anchor="middle">100</text>
<text transform="translate(1342.5 923) scale(1.0 1.026)" style="font-size:45.33px" text-anchor="middle">150</text>
<text transform="translate(1426.5 923) scale(1.0 1.026)" style="font-size:45.33px" text-anchor="middle">200</text>
<text transform="translate(1510.5 923) scale(1.0 1.026)" style="font-size:45.33px" text-anchor="middle">250</text>
<text transform="translate(1594.5 923) scale(1.0 1.026)" style="font-size:45.33px" text-anchor="middle">300</text>
<text transform="translate(1678.5 923) scale(1.0 1.026)" style="font-size:45.33px" text-anchor="middle">350</text>
<text transform="translate(1762.5 923) scale(1.0 1.026)" style="font-size:45.33px" text-anchor="middle">400</text>
<text transform="translate(1846.5 923) scale(1.0 1.026)" style="font-size:45.33px" text-anchor="middle">450</text>
<text transform="translate(1930.5 923) scale(1.0 1.026)" style="font-size:45.33px" text-anchor="middle">500</text>
<text transform="translate(1510 995.3)" style="font-size:45.33px" text-anchor="middle">Temperature (K)</text>
<text transform="translate(963 494.65) rotate(-90)" style="font-size:45.33px" text-anchor="middle">Normalized length scale for polar/elastic</text>
<text transform="translate(1020.2 496.85) rotate(-90)" style="font-size:45.33px" text-anchor="middle">cluster formation (unit cells)</text>
<text transform="translate(1340.9 481.15) rotate(-90)" style="font-size:45.33px" text-anchor="middle">Precursor region</text>
<text transform="translate(1253 1019.4) scale(0.98 1.07)" style="font-size:62px;font-style:italic">T</text>
<text transform="translate(1289.3 1035.4) scale(1.0 1.04)" style="font-size:41px">S</text>
</g>
<rect x="1639" y="269.3" width="287" height="117.4" fill="#fff" stroke="#000" stroke-width="2"/>
<rect x="1682.5" y="288.5" width="22" height="22" fill="#fff" stroke="#747474" stroke-width="3"/>
<rect x="1682.5" y="344" width="22" height="22" fill="#fff" stroke="#ff3c3c" stroke-width="3"/>
<g fill="#000">
<text transform="translate(1756.5 315.6)" style="font-size:45.33px">optic</text>
<text transform="translate(1756 370.7)" style="font-size:45.33px">acoustic</text>
</g>
</svg>
</body></html>
